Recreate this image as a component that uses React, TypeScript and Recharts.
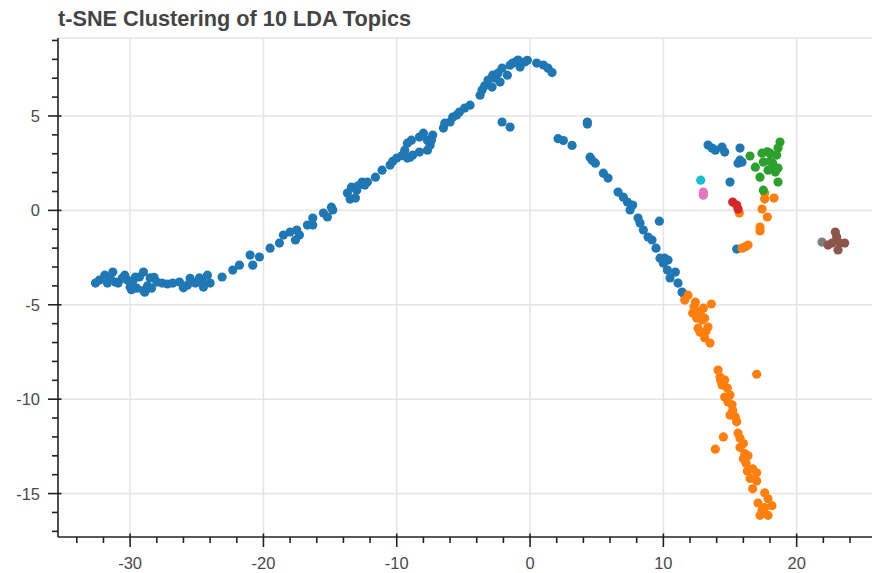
import React from "react";
import { ScatterChart, Scatter, XAxis, YAxis, ReferenceLine } from "recharts";

type P = [number, number];

const topicBlue: P[] = [
  [-32.6,-3.85],[-32.3,-3.69],[-31.9,-3.43],[-31.7,-3.85],[-31.5,-3.6],[-31.3,-3.27],[-31.1,-3.8],[-30.9,-3.85],[-30.6,-3.6],[-30.4,-3.43],[-30.2,-3.69],[-30.0,-4.06],[-29.9,-4.2],[-29.8,-3.75],[-29.6,-3.53],[-29.5,-4.12],[-29.3,-3.53],[-29.0,-3.27],[-29.0,-4.25],[-28.9,-4.33],[-28.7,-4.0],[-28.5,-3.58],[-28.4,-4.12],[-28.2,-3.55],[-28.0,-3.8],[-27.6,-3.85],[-27.2,-3.9],[-26.8,-3.85],[-26.3,-3.8],[-26.0,-4.1],[-25.7,-3.96],[-25.5,-3.6],[-25.1,-3.85],[-24.8,-3.58],[-24.6,-3.75],[-24.5,-4.06],[-24.2,-3.43],[-24.0,-3.85],[-23.1,-3.53],[-22.3,-3.16],[-21.8,-2.9],[-21.0,-2.37],[-20.8,-2.9],[-20.3,-2.47],[-19.5,-2.0],[-18.8,-1.73],
  [-18.5,-1.31],[-18.0,-1.15],[-17.6,-1.57],[-17.5,-1.04],[-17.3,-1.31],[-16.7,-0.78],[-16.3,-0.41],[-16.3,-0.78],[-15.5,-0.14],[-15.2,-0.35],[-14.9,0.17],[-14.8,0.02],[-13.7,0.92],[-13.5,0.6],[-13.4,1.23],[-13.1,0.65],[-13.0,1.07],[-12.9,1.3],[-12.6,1.5],[-12.4,1.34],[-12.2,1.5],[-11.6,1.76],[-11.1,2.13],[-10.5,2.4],[-10.3,2.6],[-10.0,2.77],[-9.6,2.9],[-9.2,2.77],[-9.4,3.19],[-9.2,3.56],[-8.9,3.72],[-8.3,3.88],[-8.0,4.09],[-7.7,3.72],[-7.5,3.45],[-7.7,3.19],[-8.3,3.09],[-8.8,2.93],[-9.0,2.82],[-7.3,3.99],[-7.4,3.72],[-6.5,4.36],[-6.4,4.62],[-6.0,4.68],[-5.8,4.94],[-5.5,5.05],[-5.3,5.21],[-4.9,5.42],[-4.5,5.57],[-3.75,6.1],[-3.6,6.37],[-3.4,6.6],[-3.15,6.9],[-2.85,6.53],[-2.8,7.16],[-2.6,7.0],[-2.4,7.27],[-2.1,7.53],[-1.7,7.16],[-1.5,7.69],[-1.3,7.8],[-1.1,7.85],[-0.9,7.96],[-0.75,7.59],[-0.4,7.86],[-0.2,7.95],[-2.25,6.8],[-2.1,4.68],[-1.5,4.41],[0.5,7.8],[1.0,7.7],[1.35,7.53],[1.65,7.3],
  [2.1,3.8],[2.5,3.7],[3.15,3.44],[4.3,4.68],[4.3,4.57],[4.5,2.82],[4.65,2.66],[4.9,2.5],[5.5,1.97],[5.85,1.71],[6.6,0.97],[7.0,0.7],[7.3,0.44],[7.7,0.28],[7.5,0.02],[8.1,-0.41],[8.25,-0.67],[8.5,-1.04],[8.85,-1.41],[9.15,-1.57],[9.45,-2.0],[9.7,-0.57],[9.75,-2.53],[10.1,-2.53],[10.0,-2.8],[10.35,-2.63],[10.3,-3.16],[10.9,-3.27],[10.5,-3.58],[11.1,-3.85],[11.4,-4.33],[11.6,-4.49],
  [13.35,3.46],[13.65,3.3],[13.9,3.19],[14.4,3.35],[14.6,3.09],[15.75,3.3],[15.75,2.66],[15.6,2.5],[15.9,2.56],[15.0,1.5],[15.5,-2.05],
];

const topicOrange: P[] = [
  [11.85,-4.49],[11.6,-4.75],[12.4,-4.86],[12.3,-5.1],[13.0,-5.18],[13.6,-4.96],[12.2,-5.44],[12.6,-5.39],[12.8,-5.55],[12.5,-5.71],[12.9,-5.81],[13.1,-5.71],[13.35,-6.18],[13.2,-6.4],[12.6,-6.24],[12.75,-6.45],[13.1,-6.76],[13.5,-7.03],
  [14.1,-8.46],[14.25,-8.83],[14.3,-9.0],[14.6,-8.99],[14.4,-9.25],[14.8,-9.41],[14.6,-9.89],[15.0,-9.78],[14.85,-10.15],[15.15,-10.3],[15.2,-10.6],[15.0,-10.84],[15.4,-10.95],[15.5,-11.2],[17.0,-8.68],[14.5,-12.0],[13.9,-12.65],
  [15.6,-11.8],[15.75,-12.07],[16.0,-12.35],[15.75,-12.56],[16.1,-12.88],[16.0,-13.15],[16.35,-13.0],[16.2,-13.4],[16.3,-13.8],[16.7,-13.69],[17.0,-13.9],[16.5,-14.2],[17.0,-14.33],[16.7,-14.75],[17.6,-14.96],[17.85,-15.28],[17.1,-15.5],[18.15,-15.64],[17.6,-15.74],[17.4,-15.9],[17.25,-16.15],[17.85,-16.15],
  [17.6,0.92],[17.6,0.6],[18.3,0.65],[17.4,0.07],[17.8,-0.35],[17.25,-0.88],[17.25,-1.09],[15.7,-0.14],[16.35,-1.84],[16.1,-1.94],[15.9,-2.0],
];

const topicGreen: P[] = [
  [18.75,3.62],[18.6,3.3],[18.5,2.93],[18.0,3.03],[17.4,3.03],[16.5,2.88],[17.5,2.56],[16.9,2.29],[18.2,2.5],[17.85,2.13],[18.4,2.03],[18.6,2.24],[17.25,1.76],[18.6,1.5],[17.5,1.07],[18.3,2.2],[18.0,2.6],[17.8,3.1],
];
const topicRed: P[] = [[15.2,0.44],[15.5,0.28],[15.6,0.07]];
const topicPink: P[] = [[13.0,0.97],[13.0,0.8]];
const topicCyan: P[] = [[12.8,1.6]];
const topicGray: P[] = [[21.9,-1.68]];
const topicBrown: P[] = [[22.9,-1.15],[23.0,-1.41],[22.65,-1.73],[23.25,-1.73],[23.6,-1.73],[23.1,-2.1],[22.35,-1.84]];

const xMajor = [-30, -20, -10, 0, 10, 20];
const yMajor = [-15, -10, -5, 0, 5];
const xTicks = Array.from({ length: 30 }, (_, i) => -34 + i * 2);
const yTicks = Array.from({ length: 27 }, (_, i) => -17 + i);
const X_DOMAIN: [number, number] = [-35.41, 25.65];
const Y_DOMAIN: [number, number] = [-17.3, 9.13];

const series: { name: string; color: string; pts: P[] }[] = [
  { name: "Topic 0", color: "#1f77b4", pts: topicBlue },
  { name: "Topic 1", color: "#ff7f0e", pts: topicOrange },
  { name: "Topic 2", color: "#2ca02c", pts: topicGreen },
  { name: "Topic 3", color: "#d62728", pts: topicRed },
  { name: "Topic 6", color: "#e377c2", pts: topicPink },
  { name: "Topic 9", color: "#17becf", pts: topicCyan },
  { name: "Topic 7", color: "#7f7f7f", pts: topicGray },
  { name: "Topic 5", color: "#8c564b", pts: topicBrown },
];

const FONT = "'Liberation Sans', Arial, Helvetica, sans-serif";
const AX = "#222";

const XTick = (props: any) => {
  const { x, y, payload } = props;
  const v = payload.value;
  const major = xMajor.includes(v);
  return (
    <g>
      <line x1={x} x2={x} y1={major ? y - 3.5 : y} y2={major ? y + 10 : y + 6} stroke={AX} strokeWidth={1.6} />
      {major && (
        <text x={x} y={y + 32} textAnchor="middle" fill="#4a4a4a" fontSize={16.5} fontFamily={FONT}>
          {v}
        </text>
      )}
    </g>
  );
};

const YTick = (props: any) => {
  const { x, y, payload } = props;
  const v = payload.value;
  const major = yMajor.includes(v);
  return (
    <g>
      <line y1={y} y2={y} x1={major ? x + 3.5 : x} x2={major ? x - 10 : x - 6} stroke={AX} strokeWidth={1.6} />
      {major && (
        <text x={x - 18} y={y} dy="0.36em" textAnchor="end" fill="#4a4a4a" fontSize={16.5} fontFamily={FONT}>
          {v}
        </text>
      )}
    </g>
  );
};

const Dot = (color: string) => (props: any) => (
  <circle cx={props.cx} cy={props.cy} r={4.6} fill={color} />
);

export default function App() {
  return (
    <div style={{ position: "relative", width: 872, height: 573, background: "#fff" }}>
      <style>{"body{margin:0;overflow:hidden}"}</style>
      <div
        style={{
          position: "absolute",
          left: 58,
          top: 8,
          fontFamily: FONT,
          fontWeight: "bold",
          fontSize: 21.7,
          lineHeight: "22px",
          color: "#444",
          whiteSpace: "nowrap",
        }}
      >
        t-SNE Clustering of 10 LDA Topics
      </div>
      <ScatterChart width={872} height={573} margin={{ top: 38, right: 0, bottom: 0, left: 0 }}>
        <XAxis
          type="number"
          dataKey="x"
          domain={X_DOMAIN}
          allowDataOverflow
          ticks={xTicks}
          interval={0}
          tickSize={0}
          tickMargin={0}
          tickLine={false}
          tick={<XTick />}
          height={36}
          axisLine={{ stroke: AX, strokeWidth: 1.6 }}
        />
        <YAxis
          type="number"
          dataKey="y"
          domain={Y_DOMAIN}
          allowDataOverflow
          ticks={yTicks}
          interval={0}
          tickSize={0}
          tickMargin={0}
          tickLine={false}
          tick={<YTick />}
          width={58}
          axisLine={{ stroke: AX, strokeWidth: 1.6 }}
        />
        {xMajor.map((v) => (
          <ReferenceLine key={"gx" + v} x={v} stroke="#e5e5e5" strokeWidth={1.6} />
        ))}
        {yMajor.map((v) => (
          <ReferenceLine key={"gy" + v} y={v} stroke="#e5e5e5" strokeWidth={1.6} />
        ))}
        <ReferenceLine y={Y_DOMAIN[1]} stroke="#e5e5e5" strokeWidth={1.6} />
        {series.map((s) => (
          <Scatter
            key={s.name}
            name={s.name}
            data={s.pts.map(([x, y]) => ({ x, y }))}
            fill={s.color}
            shape={Dot(s.color)}
            isAnimationActive={false}
          />
        ))}
      </ScatterChart>
    </div>
  );
}
